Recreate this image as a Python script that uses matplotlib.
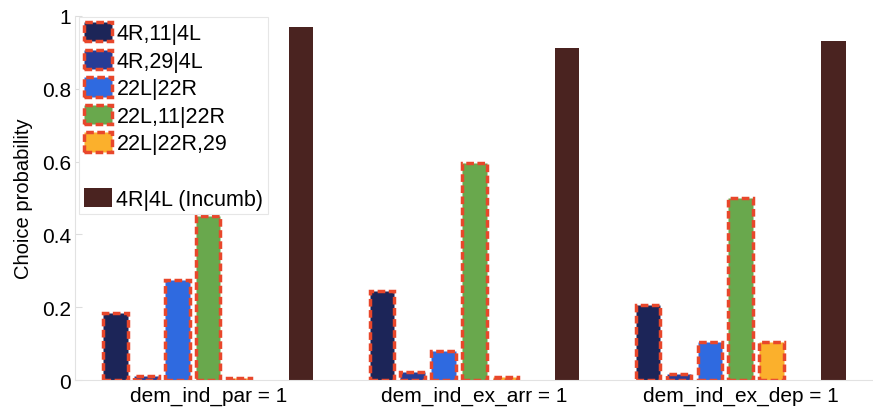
import numpy as np
import matplotlib.pyplot as plt
from matplotlib.patches import Rectangle

plt.rcParams['font.family'] = ['Liberation Sans', 'DejaVu Sans']

# data
scenarios = ['dem_ind_par = 1', 'dem_ind_ex_arr = 1', 'dem_ind_ex_dep = 1']
alternatives = ['4R,11|4L', '4R,29|4L', '22L|22R', '22L,11|22R', '22L|22R,29']
alt_probs = [
    [0.185, 0.245, 0.205],   # 4R,11|4L
    [0.012, 0.022, 0.016],   # 4R,29|4L
    [0.275, 0.080, 0.105],   # 22L|22R
    [0.450, 0.595, 0.500],   # 22L,11|22R
    [0.005, 0.008, 0.104],   # 22L|22R,29
]
incumbent_label = '4R|4L (Incumb)'
incumbent_probs = [0.970, 0.912, 0.930]

colors = ['#1c2558', '#263c96', '#2f6ae0', '#69a84d', '#fbb02c']
incumbent_color = '#4a2320'
edge_red = '#e8472b'
dash = (0, (2.2, 1.0))

fig = plt.figure(figsize=(8.73, 4.10), dpi=100)
ax = fig.add_axes([0.086, 0.0707, 0.915, 0.888])

slot = 0.116
bw = 0.092
x = np.arange(1, len(scenarios) + 1)

handles = []
for k, (lab, vals) in enumerate(zip(alternatives, alt_probs)):
    bars = ax.bar(x + (k - 3) * slot, vals, width=bw, color=colors[k],
                  edgecolor=edge_red, linewidth=2.5, linestyle=dash, label=lab)
    handles.append(bars)
inc = ax.bar(x + 3 * slot, incumbent_probs, width=bw, color=incumbent_color,
             linewidth=0, label=incumbent_label)

ax.set_xlim(0.5, 3.5)
ax.set_ylim(0, 1)
ax.set_xticks(x)
ax.set_xticklabels(scenarios, fontsize=15)
ax.set_yticks(np.arange(0, 1.01, 0.2))
ax.set_yticklabels(['0', '0.2', '0.4', '0.6', '0.8', '1'], fontsize=15)
ax.tick_params(axis='x', length=0, pad=4)
ax.tick_params(axis='y', direction='in', length=5, color='#dddddd', pad=3)
ax.set_ylabel('Choice probability', fontsize=14.5, labelpad=6)

for s in ['top', 'right']:
    ax.spines[s].set_visible(False)
for s in ['left', 'bottom']:
    ax.spines[s].set_color('#e2e2e2')
    ax.spines[s].set_linewidth(0.8)

blank = Rectangle((0, 0), 1, 1, fill=False, edgecolor='none', visible=False)
leg = ax.legend(handles + [blank, inc], alternatives + ['', incumbent_label],
                loc='upper left', bbox_to_anchor=(0.0, 1.008),
                fontsize=15.5, handlelength=1.3, handleheight=1.0,
                handletextpad=0.2, labelspacing=0.26, borderpad=0.22,
                borderaxespad=0.2, fancybox=False, framealpha=1)
leg.get_frame().set_edgecolor('#e6e6e6')
leg.get_frame().set_linewidth(0.8)

fig.savefig('out.png', dpi=100)
